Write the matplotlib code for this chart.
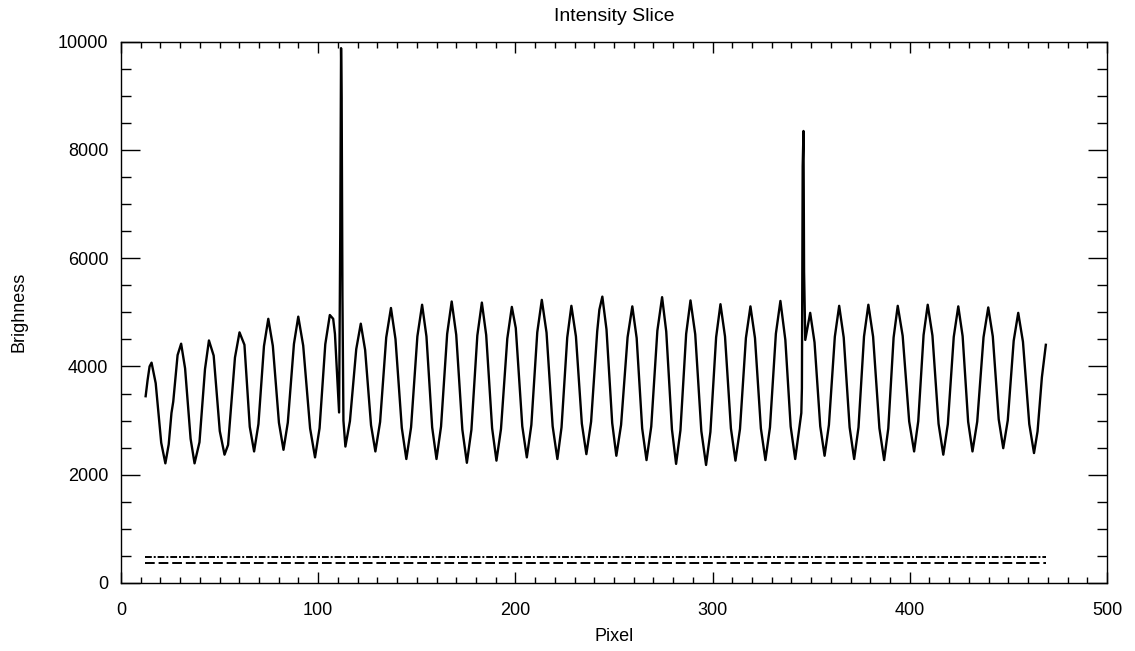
import matplotlib
matplotlib.use("Agg")
import matplotlib.pyplot as plt
from matplotlib.ticker import MultipleLocator

plt.rcParams['font.family'] = ['Liberation Sans', 'DejaVu Sans']

# slice through the image (pixel, brightness)
pixel = [12.5, 13.5, 14.5, 15.5, 17.6, 20.4, 22.5, 24.2, 25.6, 26.5, 28.7,
         30.5, 32.5, 35.3, 37.3, 39.8, 42.6, 44.6, 47.0, 50.1, 52.5, 54.3, 57.8,
         60.1, 62.6, 65.3, 67.5, 69.7, 72.5, 74.7, 77.0, 80.1, 82.4, 84.6, 87.7,
         89.9, 92.4, 95.9, 98.4, 100.7, 103.6, 105.9, 107.6, 108.5, 110.6,
         111.2, 111.6, 111.9, 112.3, 112.8, 113.8, 116.1, 119.3,
         121.6, 123.8, 126.8, 129.0, 131.4, 134.5, 136.9, 139.2, 142.4,
         144.7, 147.1, 150.3, 152.7, 154.9, 157.8, 160.0, 162.3, 165.4,
         167.7, 170.0, 173.1, 175.4, 177.7, 180.7, 183.0, 185.2, 188.2,
         190.4, 192.7, 195.9, 198.2, 200.2, 203.5, 205.8, 208.1, 211.1,
         213.4, 215.8, 218.9, 221.3, 223.4, 226.3, 228.4, 230.7, 233.7,
         236.0, 238.4, 241.5, 242.6, 244.1, 246.2, 249.1, 251.2, 253.6, 256.9,
         259.3, 261.5, 264.3, 266.5, 268.9, 272.0, 274.4, 276.5, 279.4,
         281.5, 283.7, 286.6, 288.8, 291.2, 294.3, 296.7, 298.9, 301.8,
         304.0, 306.3, 309.3, 311.6, 313.9, 316.9, 319.2, 321.5, 324.5,
         326.8, 329.1, 332.1, 334.4, 336.9, 339.6, 341.9, 345.0,
         345.3, 345.7, 346.1, 346.4, 347.0, 349.5, 351.7, 354.6,
         356.8, 359.0, 362.0, 364.2, 366.5, 369.5, 371.8, 374.0, 376.8,
         379.0, 381.4, 384.6, 387.0, 389.1, 391.8, 393.9, 396.4, 399.7,
         402.2, 404.3, 407.0, 409.1, 411.5, 414.6, 417.0, 419.3, 422.3,
         424.6, 426.8, 429.6, 431.8, 434.2, 437.4, 439.8, 442.1, 445.1,
         447.4, 449.7, 452.7, 455.0, 457.4, 460.6, 463.0, 464.8, 467.0, 469.0]
brightness = [3450, 3750, 4000, 4070, 3690, 2590, 2210, 2560, 3140, 3350, 4210,
              4420, 3965, 2665, 2210, 2600, 3950, 4480, 4200, 2805, 2370, 2550, 4165,
              4630, 4400, 2885, 2430, 2935, 4375, 4880, 4380, 2960, 2460, 2965, 4415,
              4920, 4385, 2855, 2320, 2860, 4410, 4950, 4880, 4600, 3150,
              6500, 9880, 8950, 5300, 3000, 2520, 2990, 4320,
              4790, 4305, 2915, 2430, 2975, 4535, 5080, 4505, 2865,
              2290, 2875, 4555, 5140, 4555, 2875, 2290, 2890, 4600,
              5200, 4585, 2835, 2220, 2830, 4570, 5180, 4580, 2860,
              2260, 2845, 4515, 5100, 4710, 2895, 2320, 2920, 4630,
              5230, 4625, 2895, 2290, 2875, 4535, 5120, 4555, 2945,
              2380, 2980, 4650, 5050, 5290, 4685, 2955, 2350, 2920, 4540,
              5110, 4525, 2855, 2270, 2890, 4660, 5280, 4645, 2835,
              2200, 2820, 4600, 5220, 4595, 2805, 2180, 2790, 4540,
              5150, 4555, 2855, 2260, 2845, 4525, 5110, 4525, 2855,
              2270, 2875, 4605, 5210, 4490, 2890, 2290, 3140,
              3600, 7700, 8350, 5750, 4490, 4990, 4445, 2895,
              2350, 2920, 4550, 5120, 4535, 2875, 2290, 2875, 4555,
              5140, 4550, 2860, 2270, 2855, 4535, 5120, 4565, 2985,
              2430, 2990, 4580, 5140, 4570, 2940, 2370, 2935, 4545,
              5110, 4560, 2980, 2430, 2980, 4540, 5090, 4555, 3025,
              2490, 3005, 4475, 4990, 4455, 2935, 2400, 2800, 3800, 4400]

# the two flat reference levels at the bottom
level_x = [12, 469]
level_dashdot = [480, 480]
level_dashed = [370, 370]

fig = plt.figure(figsize=(11.35, 6.51), dpi=100)
ax = fig.add_axes([0.1066, 0.1045, 0.8687, 0.8315])

ax.plot(pixel, brightness, color='black', lw=1.7, solid_joinstyle='round')
ax.plot(level_x, level_dashdot, color='black', lw=1.4, dashes=(3.5, 1, 1, 1))
ax.plot(level_x, level_dashed, color='black', lw=1.4, dashes=(5, 2))

ax.set_xlim(0, 500)
ax.set_ylim(0, 10000)
ax.xaxis.set_major_locator(MultipleLocator(100))
ax.xaxis.set_minor_locator(MultipleLocator(10))
ax.yaxis.set_major_locator(MultipleLocator(2000))
ax.yaxis.set_minor_locator(MultipleLocator(500))

ax.tick_params(axis='both', which='both', direction='in', top=True, right=True,
               labelsize=13, width=1.0, color='black')
ax.tick_params(axis='x', which='major', length=8, pad=14)
ax.tick_params(axis='x', which='minor', length=4)
ax.tick_params(axis='y', which='major', length=14, pad=9)
ax.tick_params(axis='y', which='minor', length=7)
for s in ax.spines.values():
    s.set_linewidth(1.0)

ax.set_title('Intensity Slice', fontsize=14, pad=15)
ax.set_xlabel('Pixel', fontsize=13, labelpad=6)
ax.set_ylabel('Brighness', fontsize=13, labelpad=22)

plt.savefig('out.png', dpi=100)
